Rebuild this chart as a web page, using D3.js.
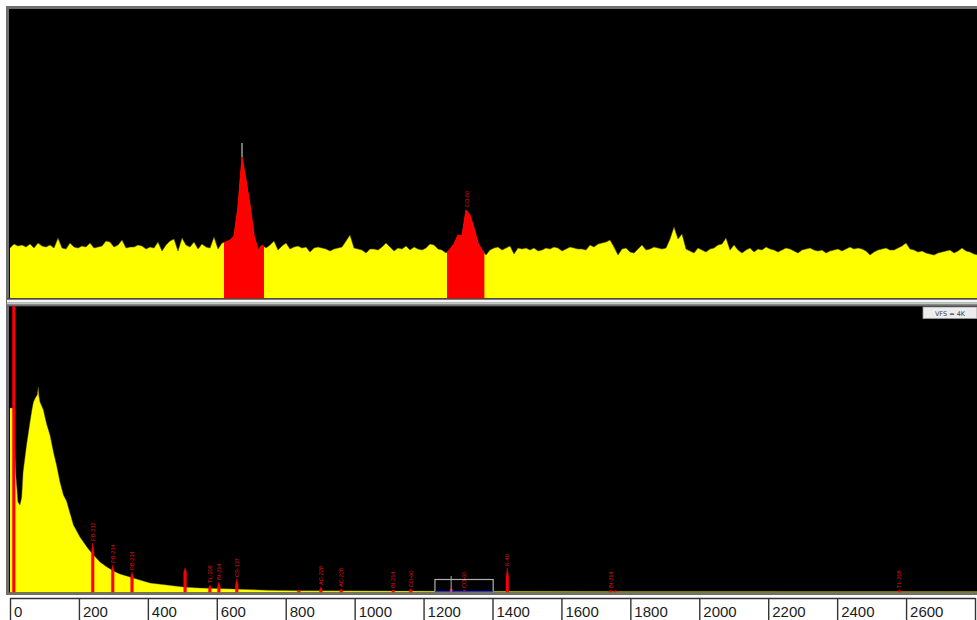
<!DOCTYPE html>
<html>
<head>
<meta charset="utf-8">
<script src="https://cdnjs.cloudflare.com/ajax/libs/d3/7.8.5/d3.min.js"></script>
<style>
html, body { margin: 0; padding: 0; background: #fff; }
svg { display: block; }
</style>
</head>
<body>
<div id="MapDiv"></div>
<script>
// expanded window (top), one value per channel
var topCounts = [
    49, 53, 51, 52, 50, 53, 49, 54, 51, 50,
    52, 49, 59, 49, 48, 54, 50, 49, 51, 50,
    54, 49, 50, 51, 56, 55, 50, 52, 57, 49,
    50, 50, 52, 51, 48, 50, 49, 55, 46, 52,
    56, 58, 46, 59, 52, 50, 55, 48, 53, 50,
    49, 60, 48, 54, 55, 57, 61, 90, 140, 117,
    92, 62, 47, 52, 49, 52, 56, 47, 51, 54,
    48, 50, 51, 49, 50, 45, 49, 50, 49, 48,
    46, 48, 49, 50, 56, 62, 49, 48, 47, 44,
    48, 48, 47, 50, 54, 50, 46, 49, 48, 51,
    47, 50, 48, 47, 49, 53, 52, 48, 47, 44,
    48, 53, 62, 61, 87, 82, 69, 54, 47, 42,
    47, 49, 50, 47, 49, 51, 43, 49, 48, 49,
    47, 49, 46, 47, 49, 48, 50, 49, 46, 48,
    50, 49, 48, 48, 47, 52, 50, 53, 54, 55,
    57, 50, 42, 48, 49, 45, 44, 48, 52, 47,
    48, 50, 49, 48, 49, 58, 70, 58, 63, 48,
    46, 44, 49, 47, 45, 48, 49, 52, 53, 59,
    47, 52, 47, 44, 47, 49, 45, 48, 47, 50,
    48, 47, 45, 47, 49, 48, 46, 44, 47, 48,
    49, 47, 46, 47, 44, 46, 47, 48, 46, 48,
    50, 48, 49, 48, 46, 42, 45, 47, 48, 49,
    47, 47, 49, 51, 54, 48, 47, 45, 46, 44,
    43, 42, 44, 45, 46, 47, 44, 46, 49, 46,
    45, 43, 42
];
var topRois = [[53.5, 63.5], [109.25, 118.6]];
var topCursorChannel = 58;
var topCursorCounts = [140, 154];
var topLabelChannels = [114.25];
var topLabelCounts = [87];
var topLabelNames = ['CO-60'];

// full spectrum (bottom), energy in keV
var contEnergy = [0, 6, 9, 17, 23, 29, 34, 38, 48, 58, 64, 68, 72, 75, 79, 82, 84, 87, 92, 97,
    102, 107, 116, 126, 135, 145, 155, 164, 174, 184, 203, 223, 237, 261, 281, 300, 319, 348,
    377, 406, 455, 503, 551, 647, 746, 842, 1132, 1422, 1800, 2200, 2810];
var contCounts = [184, 184, 184, 117, 90, 87, 95, 120, 147, 170, 183, 190, 193, 195, 197, 205, 196, 190, 186, 182,
    174, 167, 157, 140, 127, 110, 97, 91, 79, 67, 55, 45, 39, 30, 25, 21, 18, 15,
    12, 9, 7, 5, 4, 3, 1.8, 1.2, 0.9, 0.7, 0.6, 0.6, 0.5];

var peakEnergy = [11, 240, 298, 354, 508, 580, 606, 658, 838, 902, 961, 1112, 1163, 1280, 1318, 1443, 1743, 1756, 2581];
var peakTop = [300, 49, 27, 20, 24, 7, 10, 13, 2, 5, 3, 2, 3, 4, 2, 24, 2, 1.5, 2];
var peakBase = [300, 39, 21, 15, 20, 4, 5, 7, 1, 2, 1.5, 1.5, 2, 2, 1, 14, 1, 1, 1];
var peakNames = ['', 'PB-212', 'PB-214', 'PB-214', '', 'TL-208', 'BI-214', 'CS-137', '', 'AC-228', 'AC-228',
    'BI-214', 'CO-60', '', 'CO-60', 'K-40', 'BI-214', '', 'TL-208'];

var axisTicks = [0, 200, 400, 600, 800, 1000, 1200, 1400, 1600, 1800, 2000, 2200, 2400, 2600, 2800];
var zoomWindow = [1233, 1402];
var zoomWindowCounts = 12.5;
var cursorEnergy = 1280;
var cursorCounts = 16;

var svg = d3.select('#MapDiv').append('svg')
    .attr('width', 977)
    .attr('height', 620);
var defs = svg.append('defs');

// frame, panels, splitter
svg.append('rect').attr('x', 6).attr('y', 6).attr('width', 971).attr('height', 589).attr('fill', '#6f6f6f');
svg.append('rect').attr('x', 9).attr('y', 9).attr('width', 968).attr('height', 289.3).attr('fill', '#000');
svg.append('rect').attr('x', 7).attr('y', 298.3).attr('width', 970).attr('height', 1.4).attr('fill', '#3a3a3a');
svg.append('rect').attr('x', 7).attr('y', 299.7).attr('width', 970).attr('height', 2.6).attr('fill', '#f4f4f4');
svg.append('rect').attr('x', 7).attr('y', 302.3).attr('width', 970).attr('height', 2).attr('fill', '#c6c6c6');
svg.append('rect').attr('x', 9).attr('y', 306.3).attr('width', 968).attr('height', 286).attr('fill', '#000');

defs.append('clipPath').attr('id', 'clipTop').append('rect')
    .attr('x', 9).attr('y', 9).attr('width', 968).attr('height', 289.3);
defs.append('clipPath').attr('id', 'clipBot').append('rect')
    .attr('x', 9).attr('y', 306.3).attr('width', 968).attr('height', 286.2);

// ---- top window ----
var xTop = d3.scaleLinear().domain([0, topCounts.length - 1]).range([10, 978]);
var yTop = d3.scaleLinear().domain([0, 288]).range([297, 9]);
var topArea = d3.area()
    .x(function (d, i) { return xTop(i); })
    .y0(298.3)
    .y1(function (d) { return yTop(d); });
var topLine = d3.line()
    .x(function (d, i) { return xTop(i); })
    .y(function (d) { return yTop(d); });

var gTop = svg.append('g').attr('clip-path', 'url(#clipTop)');
gTop.append('path').datum(topCounts).attr('d', topArea).attr('fill', '#ffff00');
gTop.append('path').datum(topCounts).attr('d', topLine)
    .attr('fill', 'none').attr('stroke', '#4a4a00').attr('stroke-width', 0.8).attr('stroke-opacity', 0.7);

topRois.forEach(function (r, k) {
    defs.append('clipPath').attr('id', 'roiTop' + k).append('rect')
        .attr('x', xTop(r[0])).attr('y', 0)
        .attr('width', xTop(r[1]) - xTop(r[0])).attr('height', 300);
    gTop.append('g').attr('clip-path', 'url(#roiTop' + k + ')')
        .append('path').datum(topCounts).attr('d', topArea)
        .attr('fill', '#ff0000').attr('stroke', '#ff0000').attr('stroke-width', 1);
});

gTop.append('line')
    .attr('x1', xTop(topCursorChannel)).attr('x2', xTop(topCursorChannel))
    .attr('y1', yTop(topCursorCounts[0])).attr('y2', yTop(topCursorCounts[1]))
    .attr('stroke', '#b4b4b4').attr('stroke-width', 1.3);

topLabelNames.forEach(function (name, k) {
    var lx = xTop(topLabelChannels[k]), ly = yTop(topLabelCounts[k]) - 3;
    gTop.append('text')
        .attr('transform', 'translate(' + lx + ',' + ly + ') rotate(-90)')
        .attr('dy', '0.35em')
        .style('font-family', 'Liberation Sans, Arial, sans-serif')
        .style('font-size', '5.5px')
        .style('fill', '#d81010')
        .text(name);
});

// ---- full spectrum ----
var xBot = d3.scaleLinear().domain([0, 2800]).range([10, 975]);
var yBot = d3.scaleLinear().domain([0, 285]).range([592, 307]);
var botArea = d3.area()
    .x(function (d) { return xBot(d[0]); })
    .y0(592.4)
    .y1(function (d) { return yBot(d[1]); });
var botLine = d3.line()
    .x(function (d) { return xBot(d[0]); })
    .y(function (d) { return yBot(d[1]); });
var contPts = contEnergy.map(function (e, i) { return [e, contCounts[i]]; });

var gBot = svg.append('g').attr('clip-path', 'url(#clipBot)');
gBot.append('path').datum(contPts).attr('d', botArea).attr('fill', '#ffff00');
gBot.append('path').datum(contPts).attr('d', botLine)
    .attr('fill', 'none').attr('stroke', '#5a5a00').attr('stroke-width', 0.7).attr('stroke-opacity', 0.6);

var peakHalf = 4;
var peakLine = d3.line()
    .x(function (d) { return xBot(d[0]); })
    .y(function (d) { return yBot(d[1]); });
peakEnergy.forEach(function (e, i) {
    var pts = [[e - peakHalf, -0.4], [e - peakHalf, peakBase[i]], [e, peakTop[i]],
        [e + peakHalf, peakBase[i]], [e + peakHalf, -0.4]];
    gBot.append('path').datum(pts).attr('d', peakLine + '' ? peakLine(pts) : '')
        .attr('fill', '#ff0000').attr('stroke', '#ff0000').attr('stroke-width', 0.4);
    if (peakNames[i] !== '') {
        var lx = xBot(e), ly = Math.min(yBot(peakTop[i]) - 2, 588);
        gBot.append('text')
            .attr('transform', 'translate(' + lx + ',' + ly + ') rotate(-90)')
            .attr('dy', '0.35em')
            .style('font-family', 'Liberation Sans, Arial, sans-serif')
            .style('font-size', '5.6px')
            .style('fill', '#e01414')
            .text(peakNames[i]);
    }
});

// expand window marker and cursor
gBot.append('rect')
    .attr('x', xBot(zoomWindow[0])).attr('y', yBot(zoomWindowCounts))
    .attr('width', xBot(zoomWindow[1]) - xBot(zoomWindow[0]))
    .attr('height', yBot(0) - yBot(zoomWindowCounts))
    .attr('fill', 'none').attr('stroke', '#b0b0b0').attr('stroke-width', 1.2);
gBot.append('line')
    .attr('x1', xBot(zoomWindow[0])).attr('x2', xBot(zoomWindow[1]))
    .attr('y1', 591.8).attr('y2', 591.8)
    .attr('stroke', '#2c2cd8').attr('stroke-width', 1.4);
gBot.append('line')
    .attr('x1', xBot(cursorEnergy)).attr('x2', xBot(cursorEnergy))
    .attr('y1', yBot(0)).attr('y2', yBot(cursorCounts))
    .attr('stroke', '#a8a8a8').attr('stroke-width', 1);

// VFS tag
svg.append('rect').attr('x', 923).attr('y', 307).attr('width', 54).attr('height', 11.5)
    .attr('fill', '#ececec').attr('stroke', '#9a9a9a').attr('stroke-width', 0.8);
svg.append('text').attr('x', 950).attr('y', 315.5)
    .attr('text-anchor', 'middle')
    .style('font-family', 'DejaVu Sans, sans-serif')
    .style('font-size', '6.5px')
    .style('fill', '#444')
    .text('VFS = 4K');

// energy axis, boxed labels
var axis = d3.axisBottom(xBot)
    .tickValues(axisTicks)
    .tickSizeInner(30)
    .tickSizeOuter(0)
    .tickFormat(function (d) { return d < 2800 ? d : ''; });
var gAxis = svg.append('g').attr('transform', 'translate(0,598)').call(axis);
gAxis.select('.domain').attr('stroke', '#333').attr('stroke-width', 1.4);
gAxis.selectAll('.tick line').attr('stroke', '#333').attr('stroke-width', 1.4);
gAxis.selectAll('.tick text')
    .attr('x', 3.5).attr('y', 8.5).attr('dy', '0.71em')
    .attr('text-anchor', 'start')
    .style('font-family', 'Liberation Sans, Arial, sans-serif')
    .style('font-size', '15px')
    .style('fill', '#1b1b1b');
</script>
</body>
</html>
